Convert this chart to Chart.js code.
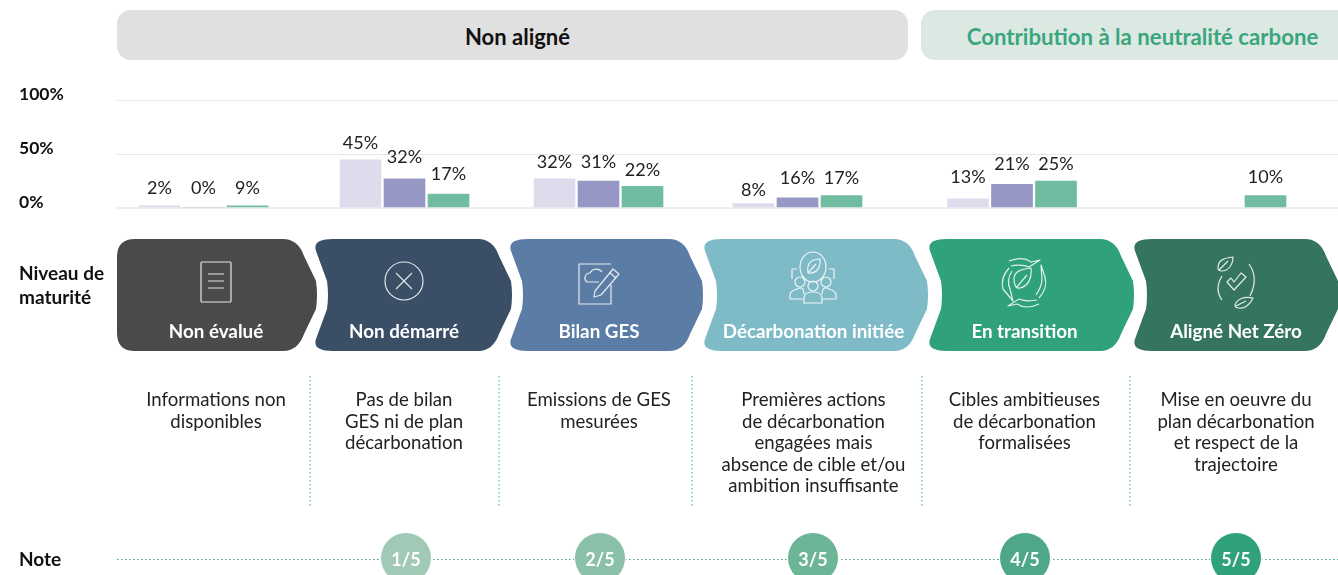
<!DOCTYPE html>
<html lang="fr">
<head>
<meta charset="utf-8">
<title>Niveau de maturité</title>
<script src="https://cdn.jsdelivr.net/npm/chart.js@4"></script>
<style>
    html, body { margin: 0; padding: 0; background: #fff; overflow: hidden; }
    body { width: 1338px; height: 575px; position: relative; font-family: Lato, sans-serif; }
    canvas, svg { position: absolute; left: 0; top: 0; }
    .pill { position: absolute; top: 10px; height: 50px; line-height: 53px; border-radius: 14px; text-align: center; font-weight: 700; font-size: 22px; box-sizing: border-box; }
    .side { position: absolute; left: 19px; font-weight: 700; font-size: 19px; line-height: 24px; color: #111; }
    .stage { position: absolute; top: 320px; width: 220px; margin-left: -110px; text-align: center; color: #fff; font-weight: 700; font-size: 18.8px; line-height: 22px; }
    .desc { position: absolute; top: 389px; width: 240px; margin-left: -120px; text-align: center; color: #222; font-size: 18.6px; line-height: 21.6px; }
    .note { position: absolute; top: 548px; width: 50px; margin-left: -25px; text-align: center; color: #fff; font-weight: 700; font-size: 18px; line-height: 22px; }
</style>
</head>
<body>
<canvas id="barChart" width="1338" height="575"></canvas>
<svg id="shapes" width="1338" height="575" xmlns="http://www.w3.org/2000/svg"></svg>
<div class="pill" style="left:117px;width:791px;padding-left:10px;background:#e0e0e0;color:#111">Non aligné</div>
<div class="pill" style="left:921px;width:430px;padding-left:13px;font-size:22.2px;background:#dbe9e2;color:#3aa57e">Contribution à la neutralité carbone</div>
<div class="side" style="top:261px">Niveau de<br>maturité</div>
<div class="side" style="top:547px">Note</div>
<div id="labels"></div>

<script>
// what the bars show
const stages = ['Non évalué', 'Non démarré', 'Bilan GES', 'Décarbonation initiée', 'En transition', 'Aligné Net Zéro'];
const lightBars = [2, 44.5, 27, 4, 8.5, null];
const midBars = [0, 27, 25, 9.5, 22, null];
const greenBars = [2, 13, 20, 11.5, 25, 11.5];
const lightLabels = ['2%', '45%', '32%', '8%', '13%', null];
const midLabels = ['0%', '32%', '31%', '16%', '21%', null];
const greenLabels = ['9%', '17%', '22%', '17%', '25%', '10%'];
const yTicks = [0, 50, 100];

const descriptions = [
    ['Informations non', 'disponibles'],
    ['Pas de bilan', 'GES ni de plan', 'décarbonation'],
    ['Emissions de GES', 'mesurées'],
    ['Premières actions', 'de décarbonation', 'engagées mais', 'absence de cible et/ou', 'ambition insuffisante'],
    ['Cibles ambitieuses', 'de décarbonation', 'formalisées'],
    ['Mise en oeuvre du', 'plan décarbonation', 'et respect de la', 'trajectoire']
];
const notes = ['1/5', '2/5', '3/5', '4/5', '5/5'];

// layout of the columns, the stages are not evenly spaced
const groupCentres = [203.5, 404.5, 598.5, 797.5, 1012, 1221.5];
const stageCentres = [216, 404, 599, 813.5, 1024.5, 1236];
const stageEdges = [[117, 317], [315, 512], [510, 703], [704, 928], [929, 1134], [1134, 1339]];
const stageColours = ['#4a4a4a', '#3a4e66', '#5b7ca5', '#7fbbc7', '#2fa27a', '#367462'];
const dividers = [310, 499, 692, 922, 1130];
const noteCentres = [406, 600, 813, 1025, 1236];
const noteColours = ['#a0cab6', '#8bc0aa', '#6cb597', '#4ea887', '#2fa27a'];
const lightLift = [18, 17, 17, 13, 22, 0];
const midLift = [20, 22, 19, 20, 20, 0];
const greenLift = [18, 20, 16, 17, 17, 18];

function barSet(values, colour, texts, lifts) {
    return {
        data: values.map((v, i) => ({ x: groupCentres[i], y: v })),
        backgroundColor: colour,
        barThickness: 44,
        maxBarThickness: 41,
        texts: texts,
        lifts: lifts
    };
}

const valueLabels = {
    id: 'valueLabels',
    afterDatasetsDraw(chart) {
        const c = chart.ctx;
        c.save();
        c.font = '18px Lato';
        c.fillStyle = '#222';
        c.textAlign = 'center';
        c.textBaseline = 'middle';
        chart.data.datasets.forEach((ds, d) => {
            chart.getDatasetMeta(d).data.forEach((bar, i) => {
                if (ds.texts[i]) c.fillText(ds.texts[i], bar.x, bar.y - ds.lifts[i]);
            });
        });
        c.restore();
    }
};

new Chart(document.getElementById('barChart').getContext('2d'), {
    type: 'bar',
    data: {
        datasets: [
            barSet(lightBars, '#dddcec', lightLabels, lightLift),
            barSet(midBars, '#9797c5', midLabels, midLift),
            barSet(greenBars, '#6fbca0', greenLabels, greenLift)
        ]
    },
    options: {
        responsive: false,
        animation: false,
        layout: { padding: { left: 19, top: 100, bottom: 367, right: 0 } },
        plugins: { legend: { display: false }, tooltip: { enabled: false } },
        scales: {
            x: { type: 'linear', min: 117, max: 1338, offset: false, display: false },
            y: {
                min: 0,
                max: 100,
                afterFit(scale) { scale.width = 98; },
                afterBuildTicks(scale) { scale.ticks = yTicks.map(v => ({ value: v })); },
                border: { display: false },
                grid: {
                    drawTicks: false,
                    color: ctx => ctx.tick.value === 0 ? '#eeeeee' : '#e6e6e6',
                    lineWidth: ctx => ctx.tick.value === 0 ? 2 : 1
                },
                ticks: {
                    crossAlign: 'far',
                    padding: 0,
                    labelOffset: -5.5,
                    color: '#111',
                    font: { family: 'Lato', size: 17.5, weight: '700' },
                    callback: v => v + '%'
                }
            }
        }
    },
    plugins: [valueLabels]
});

// chevrons and the rest of the diagram around the chart
function chevronPath(left, tip, notched) {
    const top = 239, bottom = 351, mid = 295, notch = left + 13;
    let d = `M${left + 18} ${top} L${tip - 34} ${top} Q${tip - 19} ${top} ${tip - 13} ${top + 17} `;
    d += `L${tip - 1} ${mid - 14} Q${tip + 1} ${mid} ${tip - 1} ${mid + 14} `;
    d += `L${tip - 13} ${bottom - 17} Q${tip - 19} ${bottom} ${tip - 34} ${bottom} L${left + 18} ${bottom} `;
    if (notched) {
        d += `Q${left - 3} ${bottom} ${left + 1} ${bottom - 12} L${notch - 1} ${mid + 14} Q${notch + 1} ${mid} ${notch - 1} ${mid - 14} `;
        d += `L${left + 1} ${top + 12} Q${left - 3} ${top} ${left + 18} ${top} Z`;
    } else {
        d += `Q${left} ${bottom} ${left} ${bottom - 18} L${left} ${top + 18} Q${left} ${top} ${left + 18} ${top} Z`;
    }
    return d;
}

const icons = [
    // document
    `<rect x="-15" y="-20" width="30" height="40" rx="1"/><path d="M-8 -8H8M-8 -1H8M-8 6H8"/>`,
    // crossed circle
    `<circle r="19"/><path d="M-8 -8L8 8M8 -8L-8 8"/>`,
    // sheet with cloud and pen
    `<path d="M12 -19H-20V21H12V2"/><path d="M-12 -1a5 5 0 0 1 3 -9a7 7 0 0 1 12 -1M-12 -1H0"/><path d="M-4 8L14 -14L20 -9L2 12L-5 14Z"/><path d="M11 -10L17 -5"/>`,
    // people around a leaf
    `<ellipse cy="-15" rx="13" ry="15"/><path d="M-5 -9C-7 -20 0 -23 7 -23C8 -14 3 -8 -5 -9ZM-5 -9L3 -18"/><path d="M-16 -13H-21V-3M16 -13H21V-3"/>
     <circle cy="4" r="5"/><path d="M-9 21V16Q-9 10 0 10Q9 10 9 16V21Z"/>
     <circle cx="-13" cy="0" r="5"/><path d="M-9 12L-10 7Q-13 5 -16 7Q-23 9 -23 13V17H-10"/>
     <circle cx="13" cy="0" r="5"/><path d="M9 12L10 7Q13 5 16 7Q23 9 23 13V17H10"/>`,
    // hands around a leaf
    `<path d="M-10 -4C-10 -12 -2 -14 7 -15C8 -6 5 3 -4 5C-8 6 -10 2 -10 -4ZM-8 5L3 -8"/>
     <path d="M-15 -22Q-2 -27 7 -21L16 -23L5 -16Q-2 -19 -13 -17"/>
     <path d="M15 21Q2 27 -7 21L-16 23L-5 16Q2 19 13 17"/>
     <path d="M-15 -15Q-24 -5 -21 6L-11 18L-14 6Q-18 -3 -12 -12"/>
     <path d="M15 15Q24 5 21 -6L17 -18L18 -4Q18 3 12 12"/>`,
    // check between two leaves
    `<path d="M-14 -5Q-22 8 -14 19M13 -17Q23 -3 14 15"/><path d="M-9 1L-2 9L10 -4L5 -8L-2 1L-5 -3Z"/>
     <path d="M-18 -13C-18 -21 -12 -23 -3 -24C-3 -16 -8 -10 -14 -10C-16 -10 -18 -11 -18 -13ZM-17 -11L-8 -20"/>
     <path d="M-1 24C1 18 8 15 17 17C14 24 8 28 3 27C0 27 -1 26 -1 24ZM0 25L10 20"/>`
];

const iconPlaces = [[216, 282], [404, 281], [599, 283], [813, 282], [1024, 283], [1236, 281]];

let shapes = '';
stageEdges.forEach((edge, i) => {
    shapes += `<path d="${chevronPath(edge[0], edge[1], i > 0)}" fill="${stageColours[i]}"/>`;
    shapes += `<g transform="translate(${iconPlaces[i][0]} ${iconPlaces[i][1]})" fill="none" stroke="#fff" stroke-opacity="0.85" stroke-width="1.2" stroke-linejoin="round">${icons[i]}</g>`;
});
dividers.forEach(x => {
    shapes += `<line x1="${x}" y1="376" x2="${x}" y2="506" stroke="#3aa57e" stroke-width="1" stroke-dasharray="1.5 2.5"/>`;
});
shapes += `<line x1="117" y1="559.5" x2="1338" y2="559.5" stroke="#3aa57e" stroke-width="1" stroke-dasharray="1.5 2.5"/>`;
noteCentres.forEach((x, i) => {
    shapes += `<circle cx="${x}" cy="558" r="25.5" fill="${noteColours[i]}" stroke="#fff" stroke-width="1"/>`;
});
document.getElementById('shapes').innerHTML = shapes;

let html = '';
stages.forEach((s, i) => {
    html += `<div class="stage" style="left:${stageCentres[i]}px">${s}</div>`;
    html += `<div class="desc" style="left:${stageCentres[i]}px">${descriptions[i].join('<br>')}</div>`;
});
notes.forEach((n, i) => {
    html += `<div class="note" style="left:${noteCentres[i]}px">${n}</div>`;
});
document.getElementById('labels').innerHTML = html;
</script>
</body>
</html>
